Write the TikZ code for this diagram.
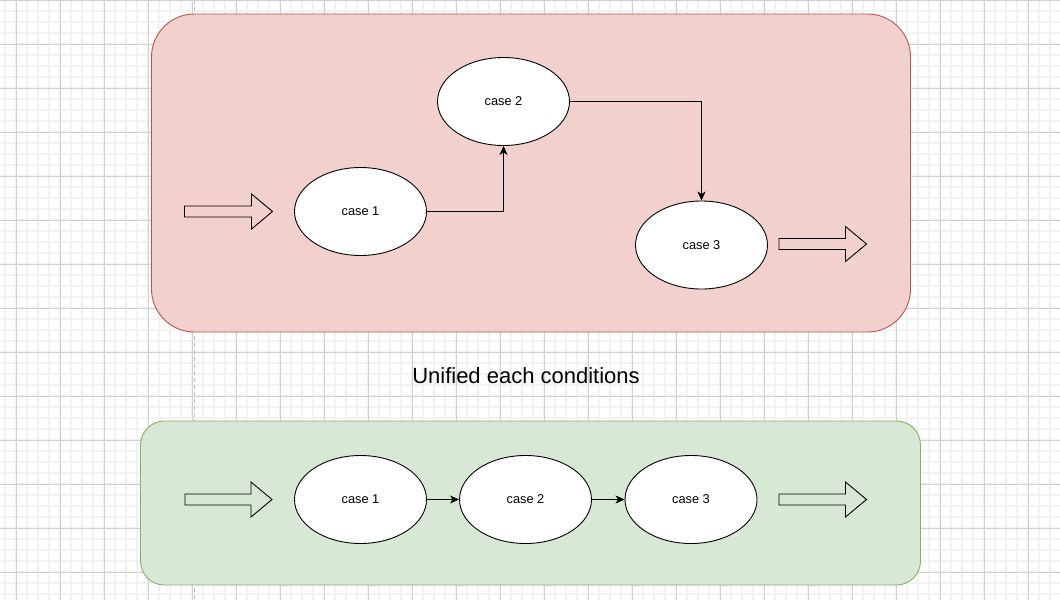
\documentclass[tikz,border=0pt]{standalone}
\usepackage{fontspec}
\setmainfont{Liberation Sans}
\usetikzlibrary{shapes.geometric,arrows.meta}
\definecolor{gridminor}{HTML}{F2F2F2}
\definecolor{gridmajor}{HTML}{D0D0D0}
\definecolor{guide}{HTML}{BDBDBD}
\definecolor{redfill}{HTML}{F2D0CE}
\definecolor{redline}{HTML}{B85450}
\definecolor{greenfill}{HTML}{D9E7D6}
\definecolor{greenline}{HTML}{82B366}
\tikzset{
  casenode/.style={ellipse, draw=black, line width=0.9pt, fill=white,
    minimum width=132pt, minimum height=88pt, inner sep=0pt,
    font=\fontsize{12.8}{14}\selectfont},
  conn/.style={draw=black, line width=0.9pt, -{Stealth[length=9pt,width=8pt,inset=2.5pt]}},
  blockarrow/.style={draw=black, line width=0.9pt, line join=miter},
  redbox/.style={draw=redline, fill=redfill, line width=0.9pt, rounded corners=43pt},
  greenbox/.style={draw=greenline, fill=greenfill, line width=0.9pt, rounded corners=24pt},
}
\begin{document}
\begin{tikzpicture}[x=1pt,y=-1pt]
\useasboundingbox (0,0) rectangle (1060,600);
\fill[white] (0,0) rectangle (1060,600);
% grid
\foreach \x in {0,...,96} { \draw[gridminor, line width=1.6pt] (5+11*\x,0) -- (5+11*\x,600); }
\foreach \y in {0,...,54} { \draw[gridminor, line width=1.6pt] (0,11*\y) -- (1060,11*\y); }
\foreach \x in {0,...,24} { \draw[gridmajor, line width=0.9pt] (16+44*\x,0) -- (16+44*\x,600); }
\foreach \y in {0,...,13} { \draw[gridmajor, line width=0.9pt] (0,44*\y) -- (1060,44*\y); }
\draw[guide, line width=1.8pt, dash pattern=on 4pt off 3pt] (194.5,0) -- (194.5,600);
% containers
\draw[redbox] (151.5,14) rectangle (910.5,332);
\draw[greenbox] (140.5,421) rectangle (920.5,585);
% title
\node[anchor=base, font=\fontsize{22}{24}\selectfont, inner sep=0pt] (title) at (526,383) {Unified each conditions};
% top row
\node[casenode] (t1) at (360.5,211.5) {case 1};
\node[casenode] (t2) at (503.5,101.5) {case 2};
\node[casenode] (t3) at (701.5,245) {case 3};
\draw[conn] (t1.east) -| (t2.south);
\draw[conn] (t2.east) -| (t3.north);
% bottom row
\node[casenode] (b1) at (360.5,499.5) {case 1};
\node[casenode] (b2) at (525.5,499.5) {case 2};
\node[casenode] (b3) at (691,499.5) {case 3};
\draw[conn] (b1) -- (b2);
\draw[conn] (b2) -- (b3);
% block arrows
\foreach \xa/\xb/\cy in {184.5/272.5/211.5, 779/866.5/244, 185/272/499.5, 779/866.5/499.5} {
  \draw[blockarrow] (\xa,\cy-5.5) -- (\xb-21,\cy-5.5) -- (\xb-21,\cy-17.5) -- (\xb,\cy)
    -- (\xb-21,\cy+17.5) -- (\xb-21,\cy+5.5) -- (\xa,\cy+5.5) -- cycle;
}
\end{tikzpicture}
\end{document}
